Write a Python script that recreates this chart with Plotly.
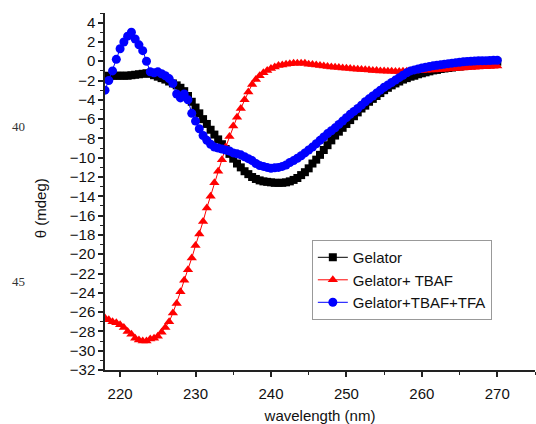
import plotly.graph_objects as go

wavelength = [218 + 0.5 * i for i in range(105)]

gelator = [
    -1.6, -1.5, -1.5, -1.5, -1.5, -1.5, -1.5, -1.45, -1.4, -1.35,
    -1.3, -1.25, -1.3, -1.45, -1.6, -1.75, -1.9, -2.1, -2.3, -2.5,
    -2.75, -3.1, -3.6, -4.2, -4.8, -5.4, -6.0, -6.5, -7.1, -7.6,
    -8.1, -8.6, -9.1, -9.6, -10.1, -10.6, -11.0, -11.4, -11.7, -12.0,
    -12.2, -12.35, -12.45, -12.5, -12.55, -12.6, -12.6, -12.6, -12.55, -12.45,
    -12.3, -12.1, -11.8, -11.5, -11.1, -10.6, -10.2, -9.7, -9.2, -8.7,
    -8.2, -7.7, -7.3, -6.9, -6.5, -6.1, -5.7, -5.3, -4.9, -4.6,
    -4.2, -3.9, -3.6, -3.3, -3.0, -2.75, -2.5, -2.3, -2.1, -1.9,
    -1.75, -1.6, -1.5, -1.35, -1.25, -1.15, -1.05, -0.95, -0.9, -0.8,
    -0.75, -0.7, -0.65, -0.6, -0.55, -0.5, -0.45, -0.4, -0.35, -0.3,
    -0.25, -0.2, -0.15, -0.1, -0.05,
]

gelator_tbaf = [
    -26.6, -26.8, -27.0, -27.1, -27.3, -27.6, -28.0, -28.3, -28.7, -28.9,
    -29.0, -29.0, -28.8, -28.7, -28.5, -28.1, -27.6, -27.0, -26.1, -25.1,
    -23.9, -22.7, -21.6, -20.4, -19.1, -17.9, -16.6, -15.2, -14.0, -12.6,
    -11.4, -10.2, -8.9, -7.8, -6.7, -5.8, -4.9, -4.0, -3.2, -2.4,
    -1.9, -1.5, -1.2, -0.95, -0.75, -0.6, -0.45, -0.38, -0.3, -0.25,
    -0.2, -0.2, -0.2, -0.22, -0.3, -0.35, -0.4, -0.45, -0.5, -0.55,
    -0.6, -0.62, -0.65, -0.7, -0.72, -0.76, -0.8, -0.83, -0.86, -0.89,
    -0.92, -0.95, -0.97, -1.0, -1.02, -1.04, -1.05, -1.06, -1.06, -1.05,
    -1.04, -1.02, -1.0, -0.98, -0.96, -0.94, -0.92, -0.9, -0.88, -0.85,
    -0.83, -0.8, -0.78, -0.75, -0.72, -0.7, -0.67, -0.64, -0.62, -0.6,
    -0.58, -0.56, -0.54, -0.52, -0.5,
]

gelator_tbaf_tfa = [
    -3.0, -2.0, -1.0, 0.2, 1.3, 2.0, 2.6, 3.0, 2.3, 1.7,
    1.1, 0.0, -1.1, -1.2, -1.1, -1.3, -1.5, -1.8, -2.3, -3.4,
    -3.8, -3.4, -4.0, -5.4, -6.2, -7.0, -7.7, -8.2, -8.6, -8.9,
    -9.0, -9.1, -9.2, -9.3, -9.5, -9.6, -9.7, -9.9, -10.1, -10.3,
    -10.6, -10.8, -10.9, -11.0, -11.1, -11.05, -11.0, -10.9, -10.75, -10.5,
    -10.3, -10.05, -9.8, -9.5, -9.2, -8.9, -8.55, -8.2, -7.85, -7.5,
    -7.2, -6.9, -6.55, -6.2, -5.85, -5.5, -5.2, -4.9, -4.55, -4.2,
    -3.9, -3.6, -3.3, -3.0, -2.7, -2.45, -2.2, -1.95, -1.7, -1.45,
    -1.2, -1.0, -0.9, -0.8, -0.7, -0.62, -0.55, -0.48, -0.42, -0.36,
    -0.3, -0.25, -0.2, -0.15, -0.1, -0.06, -0.02, 0.0, 0.02, 0.04,
    0.05, 0.06, 0.08, 0.09, 0.1,
]

series_names = ["Gelator", "Gelator+ TBAF", "Gelator+TBAF+TFA"]
x_tick_vals = [220, 230, 240, 250, 260, 270]
y_tick_vals = list(range(-32, 5, 2))

FONT = "Liberation Sans, Arial, sans-serif"
TXT = "#111111"

fig = go.Figure()
fig.add_trace(go.Scatter(
    x=wavelength, y=gelator, name=series_names[0], mode="lines+markers",
    line=dict(color="#000000", width=1),
    marker=dict(symbol="square", size=8, color="#000000"),
))
fig.add_trace(go.Scatter(
    x=wavelength, y=gelator_tbaf, name=series_names[1], mode="lines+markers",
    line=dict(color="#ff0000", width=1),
    marker=dict(symbol="triangle-up", size=9, color="#ff0000"),
))
fig.add_trace(go.Scatter(
    x=wavelength, y=gelator_tbaf_tfa, name=series_names[2], mode="lines+markers",
    line=dict(color="#0000ff", width=1),
    marker=dict(symbol="circle", size=9, color="#0000ff"),
))

fig.update_layout(
    width=536, height=424,
    margin=dict(l=105, r=1, t=13, b=54),
    paper_bgcolor="white", plot_bgcolor="white",
    font=dict(family=FONT, size=15, color=TXT),
    showlegend=True,
    legend=dict(
        x=0.481, y=0.364, xanchor="left", yanchor="top",
        bgcolor="white", bordercolor="#999999", borderwidth=1,
        font=dict(size=15, color=TXT),
        tracegroupgap=0, itemwidth=30,
    ),
    xaxis=dict(
        range=[218, 275], tickvals=x_tick_vals, showgrid=False, zeroline=False,
        showline=True, linecolor="#222222", linewidth=1.5,
        ticks="outside", ticklen=5, tickwidth=1.5, tickcolor="#222222",
        ticklabelstandoff=4,
        minor=dict(dtick=5, tick0=215, ticks="outside", ticklen=3, tickcolor="#222222", tickwidth=1.2),
        tickfont=dict(size=15, family=FONT, color=TXT),
        title=dict(text="wavelength (nm)", font=dict(size=15, family=FONT, color=TXT), standoff=11),
    ),
    yaxis=dict(
        range=[-32, 5], tickvals=y_tick_vals, showgrid=False, zeroline=False,
        showline=True, linecolor="#222222", linewidth=1.5,
        ticks="outside", ticklen=5, tickwidth=1.5, tickcolor="#222222",
        minor=dict(dtick=1, tick0=0, ticks="outside", ticklen=3, tickcolor="#222222", tickwidth=1.2),
        tickfont=dict(size=15, family=FONT, color=TXT),
    ),
    annotations=[
        dict(text="θ (mdeg)", xref="paper", yref="paper", x=-0.148, y=0.454,
             textangle=-90, showarrow=False, xanchor="center", yanchor="middle",
             font=dict(size=15, family=FONT, color=TXT)),
        dict(text="40", xref="paper", yref="paper", x=-0.202, y=0.683,
             showarrow=False, xanchor="center", yanchor="middle",
             font=dict(size=13, family="Liberation Serif, Times New Roman, serif", color="#333333")),
        dict(text="45", xref="paper", yref="paper", x=-0.202, y=0.249,
             showarrow=False, xanchor="center", yanchor="middle",
             font=dict(size=13, family="Liberation Serif, Times New Roman, serif", color="#333333")),
    ],
)

fig.write_html("out.html")
